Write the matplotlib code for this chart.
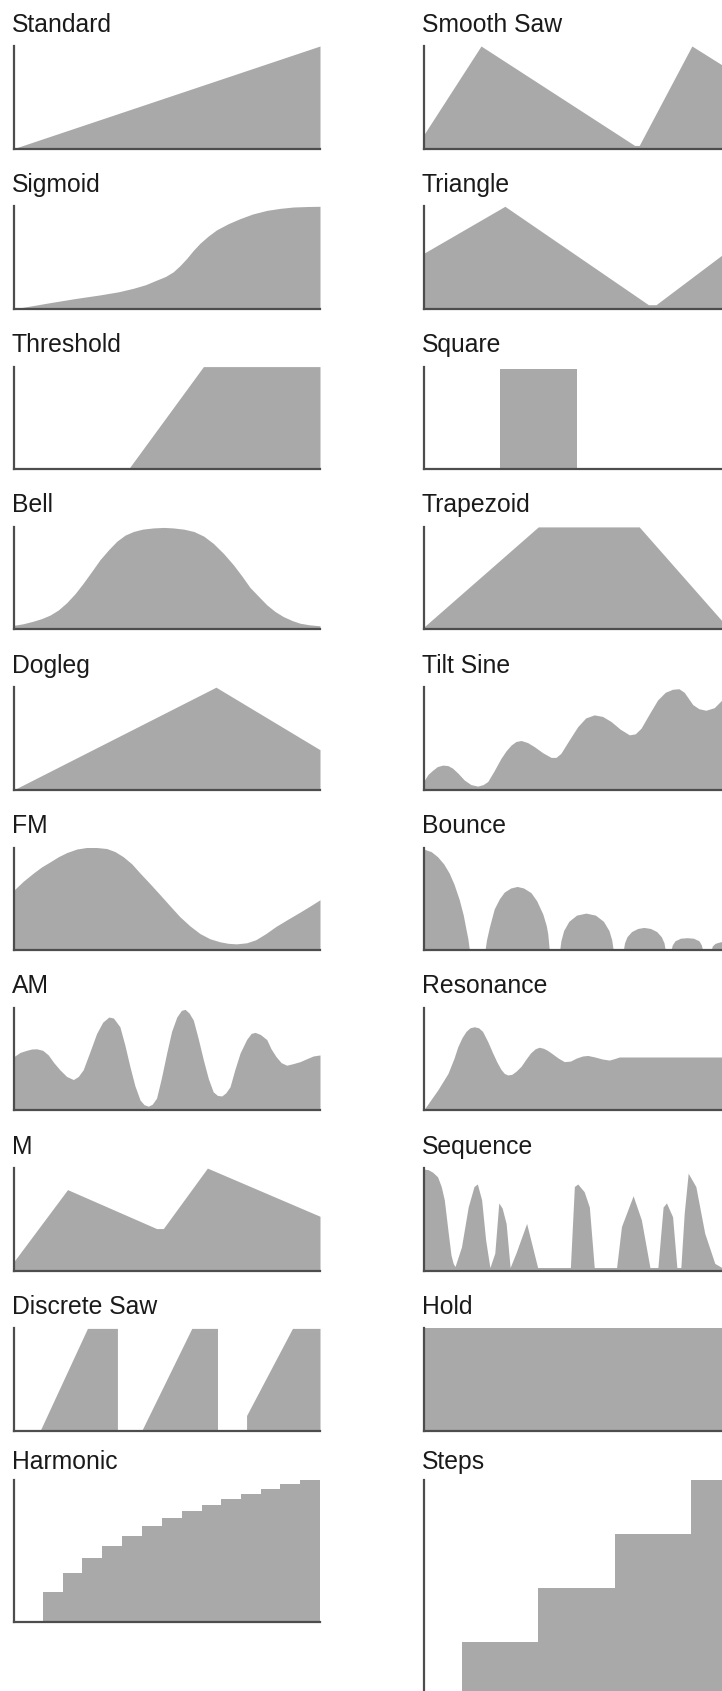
import matplotlib
matplotlib.use('Agg')
import matplotlib.pyplot as plt

# shapes; x and y are fractions of each panel (0..1)
standard_x = [0, 1]
standard_y = [0, 1]

sigmoid_x = [0, 0.06, 0.118, 0.2, 0.28, 0.34, 0.39, 0.43, 0.466, 0.495, 0.52, 0.542,
             0.564, 0.586, 0.608, 0.635, 0.662, 0.7, 0.739, 0.78, 0.826, 0.87, 0.913,
             0.96, 1.0]
sigmoid_y = [0, 0.03, 0.06, 0.10, 0.135, 0.165, 0.20, 0.235, 0.28, 0.315, 0.36, 0.42,
             0.49, 0.57, 0.64, 0.71, 0.77, 0.83, 0.88, 0.925, 0.96, 0.98, 0.993,
             0.998, 1.0]

threshold_x = [0, 0.374, 0.619, 1.0]
threshold_y = [0, 0, 1.0, 1.0]

bell_x = [0, 0.03, 0.063, 0.09, 0.118, 0.145, 0.172, 0.2, 0.226, 0.255, 0.281, 0.31,
          0.336, 0.363, 0.39, 0.42, 0.455, 0.49, 0.52, 0.555, 0.588, 0.62, 0.651,
          0.685, 0.717, 0.745, 0.771, 0.8, 0.826, 0.853, 0.88, 0.91, 0.935, 0.965, 1.0]
bell_y = [0.04, 0.055, 0.08, 0.105, 0.14, 0.19, 0.26, 0.35, 0.45, 0.57, 0.68, 0.78,
          0.86, 0.92, 0.955, 0.978, 0.99, 0.995, 0.99, 0.978, 0.955, 0.91, 0.84,
          0.74, 0.63, 0.52, 0.41, 0.32, 0.24, 0.175, 0.125, 0.085, 0.06, 0.045, 0.035]

dogleg_x = [0, 0.66, 1.0]
dogleg_y = [0, 1.0, 0.39]

fm_x = [0, 0.03, 0.063, 0.09, 0.118, 0.145, 0.172, 0.205, 0.237, 0.27, 0.303, 0.33,
        0.357, 0.385, 0.412, 0.445, 0.477, 0.51, 0.542, 0.575, 0.608, 0.64, 0.673,
        0.7, 0.727, 0.76, 0.79, 0.823, 0.856, 0.895, 0.935, 0.968, 1.0]
fm_y = [0.585, 0.67, 0.75, 0.81, 0.86, 0.91, 0.95, 0.985, 1.0, 1.0, 0.99, 0.96,
        0.91, 0.84, 0.75, 0.645, 0.54, 0.43, 0.325, 0.235, 0.16, 0.11, 0.08,
        0.065, 0.06, 0.07, 0.10, 0.16, 0.23, 0.30, 0.37, 0.43, 0.49]

am_x = [0, 0.02, 0.041, 0.058, 0.074, 0.094, 0.112, 0.13, 0.15, 0.172, 0.194, 0.21,
        0.226, 0.248, 0.27, 0.29, 0.31, 0.325, 0.346, 0.362, 0.379, 0.395, 0.412,
        0.425, 0.439, 0.452, 0.466, 0.482, 0.499, 0.515, 0.532, 0.547, 0.559, 0.572,
        0.586, 0.602, 0.619, 0.635, 0.651, 0.665, 0.679, 0.692, 0.706, 0.722, 0.739,
        0.76, 0.775, 0.788, 0.805, 0.826, 0.84, 0.856, 0.873, 0.891, 0.912, 0.935,
        0.958, 0.978, 1.0]
am_y = [0.525, 0.565, 0.585, 0.598, 0.60, 0.585, 0.54, 0.465, 0.395, 0.33, 0.30, 0.33,
        0.395, 0.57, 0.75, 0.86, 0.91, 0.90, 0.815, 0.64, 0.425, 0.24, 0.10,
        0.055, 0.04, 0.06, 0.12, 0.32, 0.56, 0.77, 0.91, 0.975, 0.985, 0.95,
        0.88, 0.70, 0.49, 0.31, 0.18, 0.145, 0.14, 0.17, 0.23, 0.40, 0.56,
        0.69, 0.75, 0.76, 0.74, 0.69, 0.60, 0.525, 0.465, 0.44, 0.455, 0.475,
        0.505, 0.53, 0.54]

m_x = [0, 0.175, 0.466, 0.488, 0.632, 1.0]
m_y = [0.09, 0.79, 0.41, 0.41, 1.0, 0.53]

dsaw_x = [0, 0.085, 0.24, 0.338, 0.338, 0.417, 0.581, 0.665, 0.665, 0.76, 0.76, 0.91, 1.0]
dsaw_y = [0, 0, 1.0, 1.0, 0, 0, 1.0, 1.0, 0, 0, 0.15, 1.0, 1.0]

harmonic_x = [0, 0.095, 0.16, 0.222, 0.288, 0.353, 0.418, 0.484, 0.549, 0.614,
              0.676, 0.742, 0.807, 0.869, 0.935, 1.0]
harmonic_y = [0, 0.211, 0.345, 0.45, 0.535, 0.606, 0.676, 0.732, 0.782, 0.824,
              0.866, 0.901, 0.937, 0.972, 1.0, 1.0]

smooth_saw_x = [0, 0.188, 0.69, 0.705, 0.877, 1.0]
smooth_saw_y = [0.13, 1.0, 0.03, 0.03, 1.0, 0.77]

triangle_x = [0, 0.266, 0.735, 0.76, 1.0]
triangle_y = [0.54, 1.0, 0.04, 0.04, 0.58]

square_x = [0, 0.25, 0.25, 0.502, 0.502, 1.0]
square_y = [0, 0, 0.98, 0.98, 0, 0]

trapezoid_x = [0, 0.375, 0.705, 1.0]
trapezoid_y = [0.02, 1.0, 1.0, 0.0]

tilt_sine_x = [0, 0.015, 0.03, 0.045, 0.063, 0.08, 0.095, 0.113, 0.133, 0.155, 0.177,
               0.195, 0.21, 0.23, 0.253, 0.27, 0.286, 0.302, 0.319, 0.34, 0.362, 0.39,
               0.417, 0.433, 0.449, 0.475, 0.504, 0.53, 0.558, 0.585, 0.613, 0.643,
               0.673, 0.692, 0.711, 0.738, 0.765, 0.79, 0.814, 0.835, 0.852, 0.866,
               0.88, 0.9, 0.923, 0.95, 0.975, 1.0]
tilt_sine_y = [0.08, 0.15, 0.19, 0.225, 0.24, 0.235, 0.21, 0.16, 0.095, 0.05, 0.035,
               0.05, 0.08, 0.18, 0.305, 0.38, 0.435, 0.47, 0.48, 0.46, 0.42, 0.36,
               0.315, 0.315, 0.355, 0.48, 0.615, 0.70, 0.73, 0.715, 0.665, 0.59,
               0.535, 0.545, 0.6, 0.74, 0.875, 0.95, 0.98, 0.985, 0.95, 0.89,
               0.83, 0.79, 0.775, 0.8, 0.875, 0.93]

bounce_x = [0, 0.025, 0.046, 0.066, 0.084, 0.1, 0.117, 0.13, 0.139, 0.145, 0.15,
            0.201, 0.206, 0.215, 0.231, 0.248, 0.264, 0.285, 0.306, 0.327, 0.351,
            0.37, 0.39, 0.401, 0.406, 0.411,
            0.445, 0.449, 0.458, 0.475, 0.5, 0.531, 0.562, 0.588, 0.606, 0.615, 0.62,
            0.653, 0.657, 0.665, 0.68, 0.7, 0.72, 0.742, 0.762, 0.777, 0.786, 0.79,
            0.809, 0.813, 0.822, 0.84, 0.861, 0.882, 0.9, 0.908, 0.912,
            0.94, 0.944, 0.953, 0.97, 0.99, 1.0]
bounce_y = [0.985, 0.96, 0.91, 0.84, 0.75, 0.64, 0.49, 0.34, 0.2, 0.11, 0,
            0, 0.10, 0.22, 0.40, 0.50, 0.565, 0.605, 0.62, 0.605, 0.56,
            0.48, 0.35, 0.24, 0.16, 0,
            0, 0.09, 0.19, 0.28, 0.34, 0.36, 0.34, 0.28, 0.19, 0.10, 0,
            0, 0.07, 0.13, 0.18, 0.21, 0.22, 0.21, 0.18, 0.13, 0.07, 0,
            0, 0.05, 0.09, 0.115, 0.12, 0.115, 0.09, 0.05, 0,
            0, 0.04, 0.065, 0.08, 0.085, 0.085]

resonance_x = [0, 0.047, 0.08, 0.1, 0.112, 0.126, 0.139, 0.152, 0.166, 0.18, 0.193,
               0.21, 0.226, 0.24, 0.253, 0.264, 0.275, 0.288, 0.302, 0.319, 0.335,
               0.35, 0.365, 0.378, 0.392, 0.405, 0.417, 0.44, 0.46, 0.48, 0.5, 0.52,
               0.537, 0.56, 0.585, 0.607, 0.625, 0.64, 1.0]
resonance_y = [0, 0.2, 0.36, 0.51, 0.62, 0.71, 0.77, 0.805, 0.815, 0.805, 0.77,
               0.67, 0.56, 0.47, 0.40, 0.36, 0.345, 0.35, 0.38, 0.43, 0.5,
               0.56, 0.6, 0.615, 0.605, 0.585, 0.56, 0.51, 0.475, 0.48, 0.51, 0.53,
               0.535, 0.52, 0.5, 0.49, 0.505, 0.52, 0.52]

sequence_x = [0, 0.015, 0.03, 0.046, 0.058, 0.068, 0.081, 0.09, 0.097, 0.103,
              0.124, 0.146, 0.165, 0.176, 0.19, 0.203, 0.217,
              0.233, 0.246, 0.257, 0.27, 0.283,
              0.302, 0.337, 0.373,
              0.48, 0.493, 0.504, 0.525, 0.542, 0.558,
              0.631, 0.647, 0.685, 0.712, 0.74,
              0.766, 0.783, 0.794, 0.814, 0.828,
              0.841, 0.852, 0.865, 0.89, 0.919, 0.952, 0.975, 1.0]
sequence_y = [0.99, 0.985, 0.96, 0.915, 0.82, 0.69, 0.365, 0.15, 0.07, 0.04,
              0.23, 0.62, 0.82, 0.845, 0.69, 0.30, 0.03,
              0.17, 0.66, 0.61, 0.46, 0.03,
              0.17, 0.46, 0.03,
              0.03, 0.82, 0.845, 0.77, 0.62, 0.03,
              0.03, 0.43, 0.73, 0.495, 0.03,
              0.03, 0.62, 0.66, 0.525, 0.03,
              0.03, 0.56, 0.95, 0.82, 0.365, 0.07, 0.03, 0.03]

hold_x = [0, 1.0]
hold_y = [1.0, 1.0]

steps_x = [0, 0.125, 0.375, 0.625, 0.875, 1.0]
steps_y = [0, 0.25, 0.5, 0.75, 1.0, 1.0]

left_names = ['Standard', 'Sigmoid', 'Threshold', 'Bell', 'Dogleg', 'FM', 'AM', 'M',
              'Discrete Saw', 'Harmonic']
right_names = ['Smooth Saw', 'Triangle', 'Square', 'Trapezoid', 'Tilt Sine', 'Bounce',
               'Resonance', 'Sequence', 'Hold', 'Steps']
left_shapes = [(standard_x, standard_y), (sigmoid_x, sigmoid_y), (threshold_x, threshold_y),
               (bell_x, bell_y), (dogleg_x, dogleg_y), (fm_x, fm_y), (am_x, am_y),
               (m_x, m_y), (dsaw_x, dsaw_y), (harmonic_x, harmonic_y)]
right_shapes = [(smooth_saw_x, smooth_saw_y), (triangle_x, triangle_y), (square_x, square_y),
                (trapezoid_x, trapezoid_y), (tilt_sine_x, tilt_sine_y), (bounce_x, bounce_y),
                (resonance_x, resonance_y), (sequence_x, sequence_y), (hold_x, hold_y),
                (steps_x, steps_y)]
step_panels = ['Harmonic', 'Steps']

W, H = 722, 1691
fig = plt.figure(figsize=(W / 100, H / 100), dpi=100)
fig.patch.set_facecolor('white')

font = ['Liberation Sans', 'DejaVu Sans']
fill_col = '#a9a9a9'
line_col = '#4d4d4d'
panel_w = 306


def panel(name, xs, ys, left, top, height, title_y):
    ax = fig.add_axes([left / W, 1 - (top + height) / H, panel_w / W, height / H])
    if name in step_panels:
        ax.fill_between(xs, ys, 0, step='post', color=fill_col, lw=0)
    else:
        ax.fill_between(xs, ys, 0, color=fill_col, lw=0)
    ax.set_xlim(0, 1)
    ax.set_ylim(0, 1)
    ax.set_xticks([])
    ax.set_yticks([])
    ax.spines['top'].set_visible(False)
    ax.spines['right'].set_visible(False)
    for s in ['left', 'bottom']:
        ax.spines[s].set_color(line_col)
        ax.spines[s].set_linewidth(1.6)
    ax.patch.set_alpha(0)
    fig.text((left - 2) / W, 1 - title_y / H, name, family=font, fontsize=17.8,
             color='#1a1a1a', ha='left', va='baseline')


for i in range(10):
    if i < 9:
        top = 46 + 160.3 * i
        h_left = h_right = 102.5
        base = top - 14.5
    else:
        top = 1480
        h_left = 142
        h_right = 216
        base = 1469
    lx, ly = left_shapes[i]
    rx, ry = right_shapes[i]
    panel(left_names[i], lx, ly, 14, top, h_left, base)
    panel(right_names[i], rx, ry, 423.5, top, h_right, base)

fig.savefig('out.png', dpi=100)
